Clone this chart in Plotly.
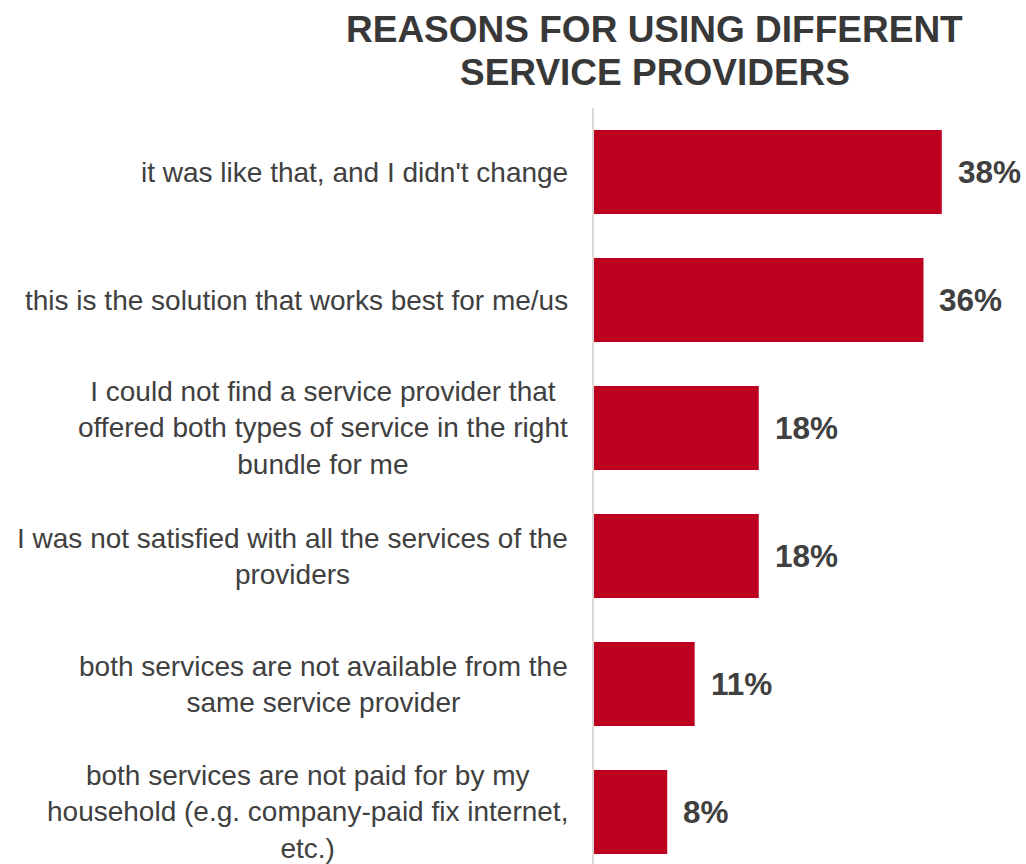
import plotly.graph_objects as go

# Survey answers (top to bottom) and the share of respondents for each
reasons = [
    "it was like that, and I didn't change",
    "this is the solution that works best for me/us",
    "I could not find a service provider that<br>offered both types of service in the right<br>bundle for me",
    "I was not satisfied with all the services of the<br>providers",
    "both services are not available from the<br>same service provider",
    "both services are not paid for by my<br>household (e.g. company-paid fix internet,<br>etc.)",
]
shares = [38, 36, 18, 18, 11, 8]
value_labels = ["38%", "36%", "18%", "18%", "11%", "8%"]

title_lines = ["REASONS FOR USING DIFFERENT", "SERVICE PROVIDERS"]

BAR_COLOR = "#BE0020"
TEXT_COLOR = "#404040"
FONT = "Liberation Sans, Arial, sans-serif"

# Use plain index keys on the category axis so the long texts can be drawn as centred blocks
keys = [f"r{i}" for i in range(len(reasons))]

fig = go.Figure(
    go.Bar(
        x=shares,
        y=keys,
        orientation="h",
        marker=dict(color=BAR_COLOR, line=dict(width=0)),
        hoverinfo="skip",
    )
)

annotations = []
for key, reason, share, lab in zip(keys, reasons, shares, value_labels):
    # category text, centred lines, block right-aligned next to the axis
    annotations.append(
        dict(
            x=0, xref="paper", y=key, yref="y",
            text=reason, showarrow=False,
            xanchor="right", yanchor="middle", align="center",
            xshift=-24,
            font=dict(family=FONT, size=28, color=TEXT_COLOR),
        )
    )
    # value label at the end of each bar
    annotations.append(
        dict(
            x=share, xref="x", y=key, yref="y",
            text=f"<b>{lab}</b>", showarrow=False,
            xanchor="left", yanchor="middle",
            xshift=14,
            font=dict(family=FONT, size=31.5, color=TEXT_COLOR),
        )
    )

# two-line heading, each line centred over the same point above the plot
title_y = [1.1032, 1.0476]
for line, ty in zip(title_lines, title_y):
    annotations.append(
        dict(
            x=0.1412, xref="paper", y=ty, yref="paper",
            text=f"<b>{line}</b>", showarrow=False,
            xanchor="center", yanchor="middle",
            font=dict(family=FONT, size=37, color="#383838"),
        )
    )

fig.update_layout(
    width=1026,
    height=864,
    margin=dict(l=594, r=0, t=108, b=0, pad=0),
    paper_bgcolor="white",
    plot_bgcolor="white",
    bargap=0.344,
    showlegend=False,
    xaxis=dict(
        range=[0, 47.2],
        showgrid=False, zeroline=False, showline=False,
        showticklabels=False, ticks="",
    ),
    yaxis=dict(
        type="category",
        categoryorder="array", categoryarray=keys,
        range=[5.406, -0.5], autorange=False,
        showgrid=False, zeroline=False,
        showline=True, linecolor="#D9D9D9", linewidth=2,
        showticklabels=False, ticks="",
    ),
    annotations=annotations,
)

fig.write_html("out.html")
